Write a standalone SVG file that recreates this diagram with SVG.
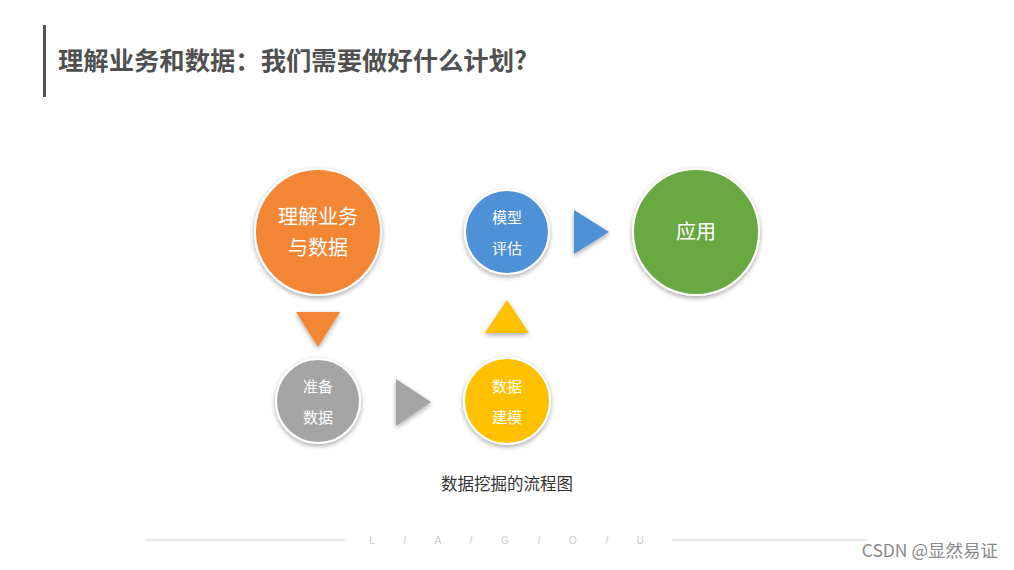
<svg xmlns="http://www.w3.org/2000/svg" width="1014" height="570" viewBox="0 0 1014 570">
<defs>
<filter id="sh" x="-30%" y="-30%" width="160%" height="160%">
<feGaussianBlur in="SourceAlpha" stdDeviation="2.5"/>
<feOffset dx="0" dy="2" result="b"/>
<feComponentTransfer><feFuncA type="linear" slope="0.35"/></feComponentTransfer>
<feMerge><feMergeNode/><feMergeNode in="SourceGraphic"/></feMerge>
</filter>
<style>
.cn{font-family:"Noto Sans CJK SC","Liberation Sans",sans-serif}
.node circle{stroke:#ffffff;stroke-width:2;filter:url(#sh)}
.lbl{fill:#ffffff;text-anchor:middle}
.tri{filter:url(#sh)}
.foot{font-family:"Liberation Sans",sans-serif;font-size:10px;fill:#c8c8c8;text-anchor:middle}
</style>
</defs>
<rect width="1014" height="570" fill="#ffffff"/>
<rect x="43" y="25" width="3" height="72" fill="#555555"/>
<text class="cn" x="58" y="70" font-size="25" font-weight="bold" fill="#505050" textLength="469" lengthAdjust="spacingAndGlyphs">理解业务和数据：我们需要做好什么计划?</text>

<g id="n1" class="node">
<circle cx="318" cy="232" r="63" fill="#F28634"/>
<text class="cn lbl" x="318" y="224" font-size="20">理解业务</text>
<text class="cn lbl" x="318" y="255" font-size="20">与数据</text>
</g>
<g id="n2" class="node">
<circle cx="318" cy="401" r="42" fill="#A5A5A5"/>
<text class="cn lbl" x="318" y="392" font-size="15">准备</text>
<text class="cn lbl" x="318" y="423" font-size="15">数据</text>
</g>
<g id="n3" class="node">
<circle cx="507" cy="401" r="43" fill="#FFC000"/>
<text class="cn lbl" x="507" y="392" font-size="15">数据</text>
<text class="cn lbl" x="507" y="423" font-size="15">建模</text>
</g>
<g id="n4" class="node">
<circle cx="507" cy="232" r="42" fill="#4F91D6"/>
<text class="cn lbl" x="507" y="223" font-size="15">模型</text>
<text class="cn lbl" x="507" y="254" font-size="15">评估</text>
</g>
<g id="n5" class="node">
<circle cx="696" cy="232" r="63" fill="#6BA843"/>
<text class="cn lbl" x="696" y="239" font-size="20">应用</text>
</g>

<g id="connectors">
<polygon class="tri" points="296,312 340,312 318,347" fill="#F28634"/>
<polygon class="tri" points="396,379 396,426 431,402" fill="#A5A5A5"/>
<polygon class="tri" points="485,333 529,333 507,300" fill="#FFC000"/>
<polygon class="tri" points="574,210 574,254 609,232" fill="#4F91D6"/>
</g>

<text class="cn" x="507" y="490" font-size="16.5" fill="#333333" text-anchor="middle">数据挖掘的流程图</text>

<g id="footer">
<line x1="145" y1="540" x2="345" y2="540" stroke="#e3e3e3" stroke-width="1.5"/>
<line x1="672" y1="540" x2="868" y2="540" stroke="#e3e3e3" stroke-width="1.5"/>
<text class="foot" x="372" y="544">L</text>
<text class="foot" x="405" y="544">/</text>
<text class="foot" x="438" y="544">A</text>
<text class="foot" x="471" y="544">/</text>
<text class="foot" x="505" y="544">G</text>
<text class="foot" x="539" y="544">/</text>
<text class="foot" x="573" y="544">O</text>
<text class="foot" x="607" y="544">/</text>
<text class="foot" x="640" y="544">U</text>
</g>
<text class="cn" x="998" y="557" font-size="17.5" fill="#8a8a8a" text-anchor="end">CSDN @显然易证</text>
</svg>
